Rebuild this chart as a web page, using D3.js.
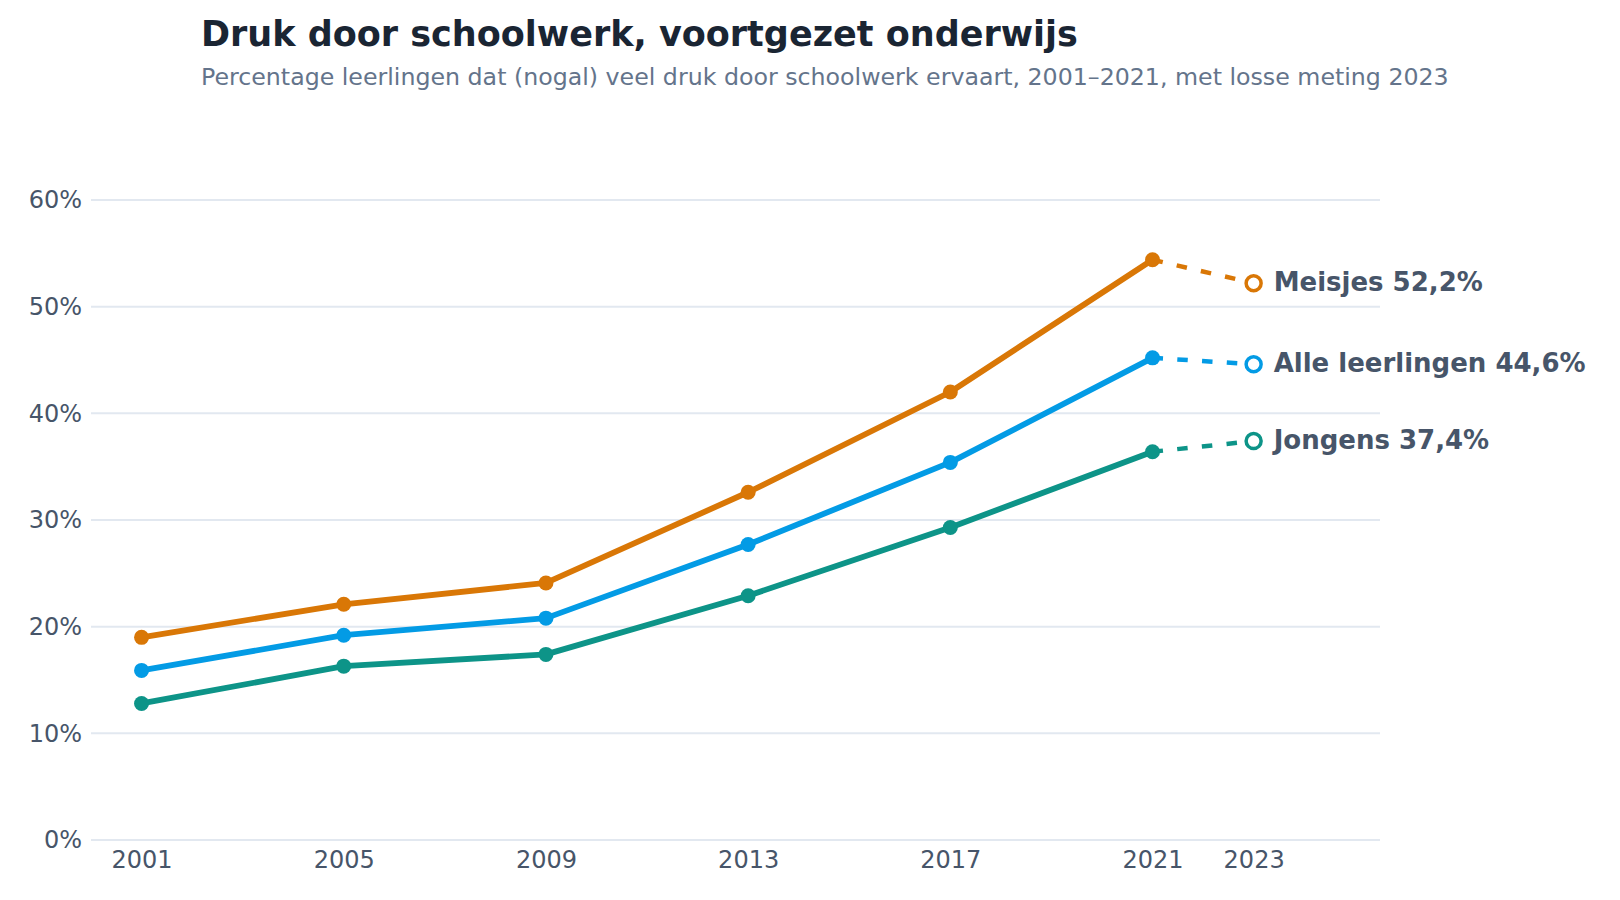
<!DOCTYPE html>
<html>
<head>
<meta charset="utf-8">
<script src="https://cdn.jsdelivr.net/npm/d3@7"></script>
<style>
  html, body { margin: 0; padding: 0; background: #ffffff; }
  svg { display: block; font-family: "DejaVu Sans", sans-serif; }
</style>
</head>
<body>
<svg id="chart" width="1620" height="900"></svg>
<script>
const years = [2001, 2005, 2009, 2013, 2017, 2021];
const extraYear = 2023;
const xTickYears = [2001, 2005, 2009, 2013, 2017, 2021, 2023];
const yTicks = [0, 10, 20, 30, 40, 50, 60];

const seriesNames = ["Meisjes", "Alle leerlingen", "Jongens"];
const meisjes = [19.0, 22.1, 24.1, 32.6, 42.0, 54.4];
const alle = [15.9, 19.2, 20.8, 27.7, 35.4, 45.2];
const jongens = [12.8, 16.3, 17.4, 22.9, 29.3, 36.4];
const meting2023 = [52.2, 44.6, 37.4];
const labels2023 = ["52,2%", "44,6%", "37,4%"];
const colors = ["#D97706", "#039BE5", "#0D9488"];

const title = "Druk door schoolwerk, voortgezet onderwijs";
const subtitle = "Percentage leerlingen dat (nogal) veel druk door schoolwerk ervaart, 2001–2021, met losse meting 2023";

const svg = d3.select("#chart");

const x = d3.scaleLinear().domain([2000, 2025.5]).range([91, 1380]);
const y = d3.scaleLinear().domain([0, 60]).range([840, 200]);

// Title & subtitle
svg.append("text").attr("x", 201).attr("y", 46)
  .attr("font-size", 35).attr("font-weight", "bold").attr("fill", "#1A2533")
  .text(title);
svg.append("text").attr("x", 201).attr("y", 85)
  .attr("font-size", 23.7).attr("fill", "#64748B")
  .text(subtitle);

// Gridlines
svg.append("g").selectAll("line").data(yTicks).join("line")
  .attr("x1", x.range()[0]).attr("x2", x.range()[1])
  .attr("y1", d => y(d)).attr("y2", d => y(d))
  .attr("stroke", "#E2E8F0").attr("stroke-width", 2);

// Y axis labels
const yAxis = d3.axisLeft(y).tickValues(yTicks).tickFormat(d => d + "%").tickSize(0).tickPadding(9);
const gy = svg.append("g").attr("transform", `translate(${x.range()[0]},0)`).call(yAxis);
gy.select(".domain").remove();
gy.selectAll("text").attr("font-size", 24).attr("fill", "#475569").attr("font-family", "DejaVu Sans");

// X axis labels
const xAxis = d3.axisBottom(x).tickValues(xTickYears).tickFormat(d3.format("d")).tickSize(0).tickPadding(11);
const gx = svg.append("g").attr("transform", `translate(0,${y(0)})`).call(xAxis);
gx.select(".domain").remove();
gx.selectAll("text").attr("font-size", 24).attr("fill", "#475569").attr("font-family", "DejaVu Sans");

const allSeries = [meisjes, alle, jongens];
const line = d3.line().x(d => x(d[0])).y(d => y(d[1]));

allSeries.forEach((vals, i) => {
  const pts = years.map((yr, j) => [yr, vals[j]]);
  const g = svg.append("g");
  // dashed connector to 2023
  g.append("path")
    .datum([pts[pts.length - 1], [extraYear, meting2023[i]]])
    .attr("d", line)
    .attr("fill", "none").attr("stroke", colors[i])
    .attr("stroke-width", 4.5).attr("stroke-dasharray", "10.5 14.3");
  g.append("path").datum(pts).attr("d", line)
    .attr("fill", "none").attr("stroke", colors[i])
    .attr("stroke-width", 5.8).attr("stroke-linejoin", "round").attr("stroke-linecap", "round");
  g.selectAll("circle.dot").data(pts).join("circle")
    .attr("class", "dot")
    .attr("cx", d => x(d[0])).attr("cy", d => y(d[1])).attr("r", 7.5)
    .attr("fill", colors[i]);
  g.append("circle")
    .attr("cx", x(extraYear)).attr("cy", y(meting2023[i])).attr("r", 7.5)
    .attr("fill", "#ffffff").attr("stroke", colors[i]).attr("stroke-width", 3.5);
  g.append("text")
    .attr("x", x(extraYear) + 20).attr("y", y(meting2023[i]))
    .attr("dy", "0.29em")
    .attr("font-size", 26).attr("font-weight", "bold").attr("fill", "#475569")
    .text(seriesNames[i] + " " + labels2023[i]);
});
</script>
</body>
</html>
